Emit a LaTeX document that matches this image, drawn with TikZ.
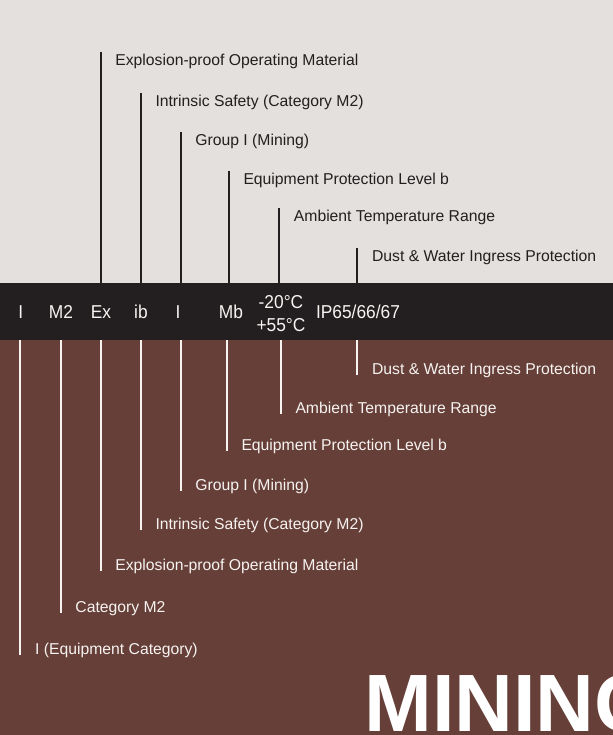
\documentclass[tikz,border=0pt]{standalone}
\usepackage{fontspec}
\setmainfont{Liberation Sans}
\newfontfamily\codefont{Liberation Sans}[FakeStretch=0.93]
\definecolor{paperlight}{RGB}{228, 224, 221}
\definecolor{bandblack}{RGB}{35, 31, 32}
\definecolor{minebrown}{RGB}{102, 63, 56}
\definecolor{offwhite}{RGB}{246, 243, 241}
\usepackage{tikz}
\usetikzlibrary{positioning}

\begin{document}
\begin{tikzpicture}[
  x=0.75pt, y=-0.75pt,
  codebox/.style={fill=bandblack, minimum width=459.75pt, minimum height=42.75pt, inner sep=0pt},
  codetxt/.style={text=offwhite, font=\codefont\fontsize{14}{17.5}\selectfont, align=center, inner sep=0pt},
  toplbl/.style={text=bandblack, font=\fontsize{11.8}{13}\selectfont, inner sep=0pt, text height=8.45pt, text depth=0pt, below right=1.5pt and 10.9pt of #1},
  botlbl/.style={text=offwhite, font=\fontsize{11.8}{13}\selectfont, inner sep=0pt, text height=8.45pt, text depth=0pt, above right=0pt and 10.9pt of #1},
  upline/.style={draw=bandblack, line width=1.5pt},
  downline/.style={draw=offwhite, line width=1.5pt},
  bigword/.style={text=white, font=\fontsize{61}{61}\selectfont\bfseries, inner sep=0pt, anchor=base west}
]
  \useasboundingbox (0,0) rectangle (613,735);
  \fill[paperlight] (0,0) rectangle (613,283);
  \fill[minebrown] (0,340) rectangle (613,735);

  % the marking strip
  \node[codebox] (band) at (306.5,311.5) {};
  \node[codetxt, anchor=base] (cI) at (20.7,318.7) {I};
  \node[codetxt, anchor=base] (cM2) at (61,318.7) {M2};
  \node[codetxt, anchor=base] (cEx) at (101,318.7) {Ex};
  \node[codetxt, anchor=base] (cib) at (141,318.7) {ib};
  \node[codetxt, anchor=base] (cGrp) at (178,318.7) {I};
  \node[codetxt, anchor=base] (cMb) at (231,318.7) {Mb};
  \node[codetxt] (cTemp) at (281,313.3) {-20°C\\+55°C};
  \node[codetxt, anchor=base] (cIP) at (358,318.7) {IP65/66/67};

  % labels above
  \coordinate (uEx) at (100.5,51.7);
  \node[toplbl=uEx] (tEx) {Explosion-proof Operating Material};
  \draw[upline] (uEx) -- (uEx |- band.north);

  \coordinate (uib) at (140.7,92.7);
  \node[toplbl=uib] (tib) {Intrinsic Safety (Category M2)};
  \draw[upline] (uib) -- (uib |- band.north);

  \coordinate (uGrp) at (180.6,132.3);
  \node[toplbl=uGrp] (tGrp) {Group I (Mining)};
  \draw[upline] (uGrp) -- (uGrp |- band.north);

  \coordinate (uMb) at (228.7,171);
  \node[toplbl=uMb] (tMb) {Equipment Protection Level b};
  \draw[upline] (uMb) -- (uMb |- band.north);

  \coordinate (uTemp) at (279.1,208.3);
  \node[toplbl=uTemp] (tTemp) {Ambient Temperature Range};
  \draw[upline] (uTemp) -- (uTemp |- band.north);

  \coordinate (uIP) at (357.3,248.3);
  \node[toplbl=uIP] (tIP) {Dust \& Water Ingress Protection};
  \draw[upline] (uIP) -- (uIP |- band.north);

  % labels below
  \coordinate (lIP) at (357.3,375);
  \node[botlbl=lIP] (bIP) {Dust \& Water Ingress Protection};
  \draw[downline] (lIP) -- (lIP |- band.south);

  \coordinate (lTemp) at (280.7,414);
  \node[botlbl=lTemp] (bTemp) {Ambient Temperature Range};
  \draw[downline] (lTemp) -- (lTemp |- band.south);

  \coordinate (lMb) at (226.7,451);
  \node[botlbl=lMb] (bMb) {Equipment Protection Level b};
  \draw[downline] (lMb) -- (lMb |- band.south);

  \coordinate (lGrp) at (180.6,490.7);
  \node[botlbl=lGrp] (bGrp) {Group I (Mining)};
  \draw[downline] (lGrp) -- (lGrp |- band.south);

  \coordinate (lib) at (140.7,530);
  \node[botlbl=lib] (bib) {Intrinsic Safety (Category M2)};
  \draw[downline] (lib) -- (lib |- band.south);

  \coordinate (lEx) at (100.5,571);
  \node[botlbl=lEx] (bEx) {Explosion-proof Operating Material};
  \draw[downline] (lEx) -- (lEx |- band.south);

  \coordinate (lM2) at (60.6,612.7);
  \node[botlbl=lM2] (bM2) {Category M2};
  \draw[downline] (lM2) -- (lM2 |- band.south);

  \coordinate (lI) at (20.3,655);
  \node[botlbl=lI] (bI) {I (Equipment Category)};
  \draw[downline] (lI) -- (lI |- band.south);

  % big word, cut at the right edge
  \begin{scope}
    \clip (0,340) rectangle (613,735);
    \node[bigword] (mine) at (364,731.7) {MINING};
  \end{scope}
\end{tikzpicture}
\end{document}
